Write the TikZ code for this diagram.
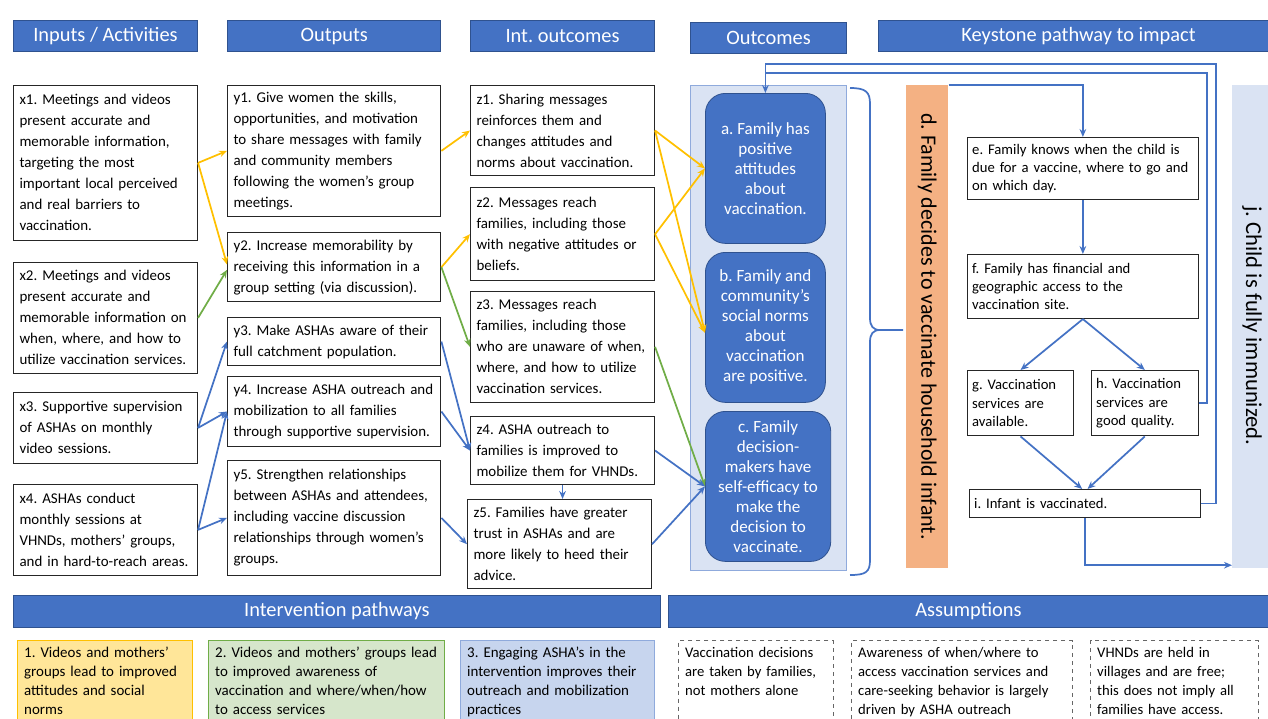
\documentclass[tikz,border=0pt]{standalone}
\usepackage{fontspec}
\setmainfont{Carlito}
\usepackage{xcolor}
\usepackage{tikz}
\usetikzlibrary{positioning,calc,arrows.meta}
\frenchspacing

\definecolor{hdrblue}{HTML}{4472C4}
\definecolor{hdrline}{HTML}{2F528F}
\definecolor{ylw}{HTML}{FFC000}
\definecolor{grn}{HTML}{70AD47}
\definecolor{paleblue}{HTML}{DAE3F3}
\definecolor{palebord}{HTML}{8FAADC}
\definecolor{orng}{HTML}{F4B183}
\definecolor{pyel}{HTML}{FFE699}
\definecolor{pgrn}{HTML}{D6E6CB}
\definecolor{pblu}{HTML}{C7D5EE}

\tikzset{
    hdr/.style={draw=hdrline, fill=hdrblue, text=white, anchor=north west, inner sep=0pt,
        minimum height=23.25pt, line width=0.8pt, font=\fontsize{15.3}{17}\selectfont},
    cbox/.style={draw=black!85, fill=white, anchor=north west, align=left, inner xsep=4.5pt,
        inner ysep=2pt, line width=0.8pt, font=\fontsize{11.2}{15.75}\selectfont},
    kbox/.style={cbox, inner xsep=3.5pt, font=\fontsize{11}{13.75}\selectfont},
    obox/.style={draw=hdrline, fill=hdrblue, text=white, rounded corners=15pt, anchor=north west,
        align=center, line width=0.6pt, font=\fontsize{12.8}{15}\selectfont},
    pbox/.style={anchor=north west, align=left, inner xsep=5pt, inner ysep=5pt, line width=0.8pt,
        font=\fontsize{11.2}{14.25}\selectfont},
    abox/.style={pbox, draw=black!60, dashed, fill=white, font=\fontsize{11}{14.25}\selectfont},
    yarr/.style={draw=ylw, line width=1.3pt, -{Stealth[length=6pt,width=5pt]}},
    garr/.style={draw=grn, line width=1.3pt, -{Stealth[length=6pt,width=5pt]}},
    barr/.style={draw=hdrblue, line width=1.3pt, -{Stealth[length=6pt,width=5pt]}},
    bline/.style={draw=hdrblue, line width=1.3pt}
}

\begin{document}
\begin{tikzpicture}[x=0.75pt,y=-0.75pt]
    \useasboundingbox (0,0) rectangle (1268,718);
    \clip (0,0) rectangle (1268,718);

    % Column headers
    \node[hdr, minimum width=138pt] (hin) at (13,20) {Inputs / Activities};
    \node[hdr, minimum width=160pt] (hout) at (227,20) {Outputs};
    \node[hdr, minimum width=138pt] (hint) at (470,20) {Int. outcomes};
    \node[hdr, minimum width=117pt] (hoc) at (690,22) {Outcomes};
    \node[hdr, minimum width=300pt] (hkey) at (878,20) {Keystone pathway to impact};

    % Inputs / Activities
    \node[cbox, text width=129pt, minimum height=116pt] (x1) at (13,85) {x1. Meetings and videos\\present accurate and\\memorable information,\\targeting the most\\important local perceived\\and real barriers to\\vaccination.};
    \node[cbox, text width=129pt, minimum height=83pt] (x2) at (13,262) {x2. Meetings and videos\\present accurate and\\memorable information on\\when, where, and how to\\utilize vaccination services.};
    \node[cbox, text width=129pt, minimum height=53pt] (x3) at (13,392) {x3. Supportive supervision\\of ASHAs on monthly\\video sessions.};
    \node[cbox, text width=129pt, minimum height=68pt] (x4) at (13,484) {x4. ASHAs conduct\\monthly sessions at\\VHNDs, mothers’ groups,\\and in hard-to-reach areas.};

    % Outputs
    \node[cbox, text width=151pt, minimum height=98pt] (y1) at (227,85) {y1. Give women the skills,\\opportunities, and motivation\\to share messages with family\\and community members\\following the women’s group\\meetings.};
    \node[cbox, text width=151pt, minimum height=52pt] (y2) at (227,232) {y2. Increase memorability by\\receiving this information in a\\group setting (via discussion).};
    \node[cbox, text width=151pt, minimum height=36pt] (y3) at (227,317) {y3. Make ASHAs aware of their\\full catchment population.};
    \node[cbox, text width=151pt, minimum height=52.5pt] (y4) at (227,376) {y4. Increase ASHA outreach and\\mobilization to all families\\through supportive supervision.};
    \node[cbox, text width=151pt, minimum height=86pt] (y5) at (227,460) {y5. Strengthen relationships\\between ASHAs and attendees,\\including vaccine discussion\\relationships through women’s\\groups.};

    % Intermediate outcomes
    \node[cbox, text width=129pt, minimum height=67.5pt] (z1) at (470,85) {z1. Sharing messages\\reinforces them and\\changes attitudes and\\norms about vaccination.};
    \node[cbox, text width=129pt, minimum height=70pt] (z2) at (470,187) {z2. Messages reach\\families, including those\\with negative attitudes or\\beliefs.};
    \node[cbox, text width=129pt, minimum height=83pt] (z3) at (470,291) {z3. Messages reach\\families, including those\\who are unaware of when,\\where, and how to utilize\\vaccination services.};
    \node[cbox, text width=129pt, minimum height=51pt] (z4) at (470,416) {z4. ASHA outreach to\\families is improved to\\mobilize them for VHNDs.};
    \node[cbox, text width=129pt, minimum height=67pt] (z5) at (467,499) {z5. Families have greater\\trust in ASHAs and are\\more likely to heed their\\advice.};

    % Outcomes
    \node[draw=palebord, fill=paleblue, anchor=north west, line width=0.6pt, minimum width=117pt, minimum height=364pt] (obg) at (690,85) {};
    \node[obox, minimum width=90pt, minimum height=112.5pt] (a) at (705,93) {a. Family has\\positive\\attitudes\\about\\vaccination.};
    \node[obox, minimum width=90pt, minimum height=112.5pt] (b) at (705,252) {b. Family and\\community’s\\social norms\\about\\vaccination\\are positive.};
    \node[obox, minimum width=94pt, minimum height=112.5pt] (c) at (705,411) {c. Family\\decision-\\makers have\\self-efficacy to\\make the\\decision to\\vaccinate.};

    % Brace
    \draw[bline] (850,88) .. controls (866,88) and (870,92) .. (870,104) -- (870,318)
        .. controls (870,326) and (873,330) .. (880,330) -- (903,330);
    \draw[bline] (880,330) .. controls (873,330) and (870,334) .. (870,342) -- (870,560)
        .. controls (870,572) and (866,575) .. (850,575);

    % Keystone pathway
    \node[fill=orng, anchor=north west, minimum width=31.5pt, minimum height=362pt] (d) at (906,85) {};
    \node[rotate=-90, font=\fontsize{16.5}{19}\selectfont] at (d.center) {d. Family decides to vaccinate household infant.};
    \node[fill=paleblue, anchor=north west, minimum width=30pt, minimum height=362pt] (j) at (1232,85) {};
    \node[rotate=-90, font=\fontsize{17}{20}\selectfont] at (1252,326) {j. Child is fully immunized.};

    \node[kbox, text width=166pt, minimum height=46.5pt] (e) at (967,137) {e. Family knows when the child is\\due for a vaccine, where to go and\\on which day.};
    \node[kbox, text width=166pt, minimum height=48pt] (f) at (967,254) {f. Family has financial and\\geographic access to the\\vaccination site.};
    \node[kbox, text width=72.5pt, minimum height=49pt] (g) at (967,370) {g. Vaccination\\services are\\available.};
    \node[kbox, text width=73pt, minimum height=49pt] (h) at (1091,370) {h. Vaccination\\services are\\good quality.};
    \node[kbox, text width=166pt, minimum height=21pt] (i) at (969,489) {i. Infant is vaccinated.};

    % Feedback loops
    \coordinate (loopi) at (1216,64);
    \coordinate (looph) at (1207,73);
    \draw[barr] (i.east) -| (loopi) -| (a.north);
    \draw[bline] (h.east) -| (looph) -- (a.north |- looph);

    % Keystone arrows
    \draw[barr] (d.north east) -| (e.north);
    \draw[barr] (e.south) -- (f.north);
    \draw[barr] (f.south) -- (g.north);
    \draw[barr] (f.south) -- (h.north);
    \draw[barr] (g.south) -- ([xshift=-2pt]i.north);
    \draw[barr] (h.south) -- ([xshift=2pt]i.north);
    \draw[barr] (i.south) |- ([yshift=2.25pt]j.south west);

    % Inputs -> outputs
    \draw[yarr] (x1.east) -- (y1.west);
    \draw[yarr] (x1.east) -- ([yshift=2pt]y2.west);
    \draw[garr] (x2.east) -- ([yshift=-2pt]y2.west);
    \draw[barr] (x3.east) -- (y3.west);
    \draw[barr] (x3.east) -- (y4.west);
    \draw[barr] (x4.east) -- (y4.west);
    \draw[barr] (x4.east) -- (y5.west);

    % Outputs -> intermediate outcomes
    \draw[yarr] (y1.east) -- (z1.west);
    \draw[yarr] (y2.east) -- (z2.west);
    \draw[garr] (y2.east) -- (z3.west);
    \draw[barr] (y3.east) -- (z4.west);
    \draw[barr] (y4.east) -- (z4.west);
    \draw[barr] (y5.east) -- (z5.west);
    \draw[barr] (z4.south) -- (z4.south |- z5.north);

    % Intermediate outcomes -> outcomes
    \draw[yarr] (z1.east) -- (a.west);
    \draw[yarr] (z1.east) -- ([yshift=-4pt]b.west);
    \draw[yarr] (z2.east) -- (a.west);
    \draw[yarr] (z2.east) -- ([yshift=-4pt]b.west);
    \draw[garr] (z3.east) -- (c.west);
    \draw[barr] (z4.east) -- (c.west);
    \draw[barr] (z5.east) -- (c.west);

    % Intervention pathways and assumptions
    \node[hdr, minimum width=485pt, minimum height=24pt] (hpath) at (13,595) {Intervention pathways};
    \node[hdr, minimum width=450pt, minimum height=24pt] (hass) at (668,595) {Assumptions};

    \node[pbox, draw=ylw, fill=pyel, text width=121pt] (p1) at (17,640) {1. Videos and mothers’\\groups lead to improved\\attitudes and social\\norms};
    \node[pbox, draw=grn, fill=pgrn, text width=167pt] (p2) at (208,640) {2. Videos and mothers’ groups lead\\to improved awareness of\\vaccination and where/when/how\\to access services};
    \node[pbox, draw=palebord, fill=pblu, text width=135.5pt] (p3) at (460,640) {3. Engaging ASHA’s in the\\intervention improves their\\outreach and mobilization\\practices};

    \node[abox, text width=106pt] (s1) at (678,640) {Vaccination decisions\\are taken by families,\\not mothers alone\\\mbox{}};
    \node[abox, text width=156pt] (s2) at (851,640) {Awareness of when/where to\\access vaccination services and\\care-seeking behavior is largely\\driven by ASHA outreach};
    \node[abox, text width=116pt] (s3) at (1090,640) {VHNDs are held in\\villages and are free;\\this does not imply all\\families have access.};
\end{tikzpicture}
\end{document}
